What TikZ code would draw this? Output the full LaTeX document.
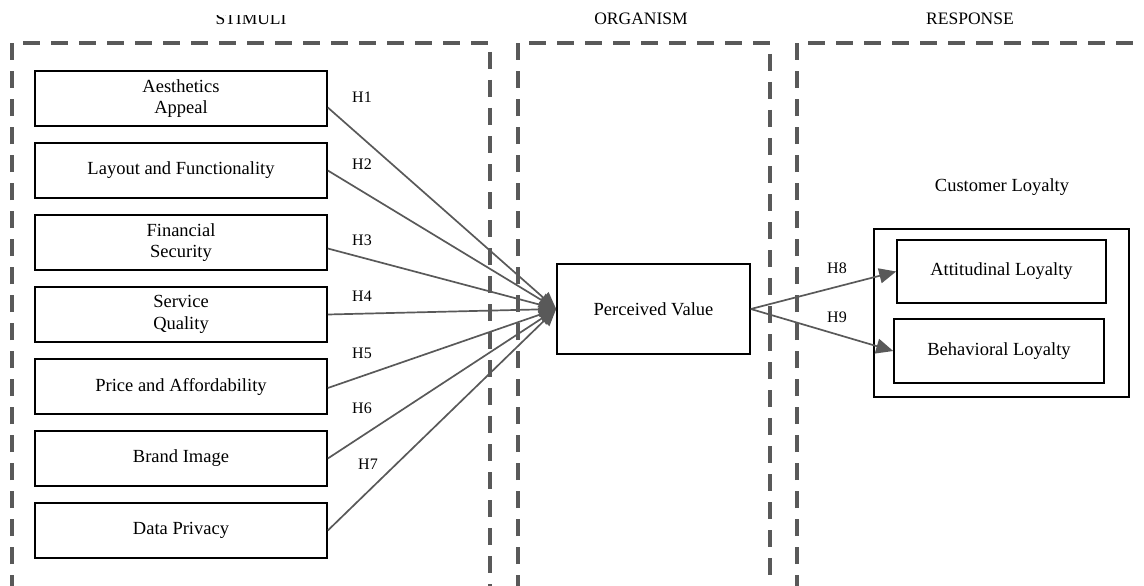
\documentclass[tikz,border=0pt]{standalone}
\usepackage{fontspec}
\setmainfont{Liberation Serif}
\usetikzlibrary{arrows.meta}
\definecolor{linegray}{HTML}{595959}
\tikzset{
  boxtext/.style={font=\fontsize{18.5}{21.5}\selectfont},
  varbox/.style={boxtext, draw=black, line width=1.6pt, inner sep=0pt,
    align=center, minimum width=292pt, minimum height=55pt},
  title/.style={font=\fontsize{17.5}{20}\selectfont, anchor=base, inner sep=0pt},
  hlabel/.style={font=\fontsize{16}{18}\selectfont, inner sep=0pt},
  stage/.style={draw=linegray, line width=4pt, dash pattern=on 17pt off 11pt},
  conn/.style={draw=linegray, line width=1.7pt,
    -{Triangle[length=17pt,width=15pt]}, color=linegray},
}
\begin{document}
\begin{tikzpicture}[x=1pt, y=-1pt]
\useasboundingbox (0,0) rectangle (1144,586);

% stage frames (open at the bottom of the page)
\draw[stage] (12,620) -- (12,43) -- (490,43) -- (490,620);
\draw[stage] (518,620) -- (518,43) -- (770,43) -- (770,620);
\draw[stage] (797,620) -- (797,43) -- (1170,43) -- (1170,620);

% stage titles
\begin{scope}
  \clip (150,16) rectangle (350,40);
  \node[title] (tstim) at (251,25) {STIMULI};
\end{scope}
\node[title] (torg) at (641,25) {ORGANISM};
\node[title] (tres) at (970,25) {RESPONSE};

% stimuli
\node[varbox] (s1) at (181,98.5)  {Aesthetics\\Appeal};
\node[varbox] (s2) at (181,170.5) {Layout and Functionality};
\node[varbox] (s3) at (181,242.5) {Financial\\Security};
\node[varbox] (s4) at (181,314.5) {Service\\Quality};
\node[varbox] (s5) at (181,386.5) {Price and Affordability};
\node[varbox] (s6) at (181,458.5) {Brand Image};
\node[varbox] (s7) at (181,530.5) {Data Privacy};

% organism
\node[varbox, minimum width=193pt, minimum height=90pt] (pv) at (653.5,309) {Perceived Value};

% response
\node[boxtext, anchor=base, inner sep=0pt] (tcl) at (1002,191) {Customer Loyalty};
\node[draw=black, line width=1.4pt, minimum width=255pt, minimum height=168pt, inner sep=0pt] (cl) at (1001.5,313) {};
\node[varbox, minimum width=209pt, minimum height=63pt] (att) at (1001.5,271.5) {Attitudinal Loyalty};
\node[varbox, minimum width=210pt, minimum height=64pt] (beh) at (999,351) {Behavioral Loyalty};

% hypotheses
\draw[conn] ([yshift=-9pt]s1.east) -- (pv.west);
\draw[conn] (s2.east) -- (pv.west);
\draw[conn] ([yshift=-6pt]s3.east) -- (pv.west);
\draw[conn] (s4.east) -- (pv.west);
\draw[conn] ([yshift=-1.5pt]s5.east) -- (pv.west);
\draw[conn] (s6.east) -- (pv.west);
\draw[conn] (s7.east) -- (pv.west);
\draw[conn] (pv.east) -- (att.west);
\draw[conn] (pv.east) -- (beh.west);

\node[hlabel] (h1) at (362,97) {H1};
\node[hlabel] (h2) at (362,164) {H2};
\node[hlabel] (h3) at (362,240) {H3};
\node[hlabel] (h4) at (362,296) {H4};
\node[hlabel] (h5) at (362,353) {H5};
\node[hlabel] (h6) at (362,408) {H6};
\node[hlabel] (h7) at (368,464) {H7};
\node[hlabel] (h8) at (837,268) {H8};
\node[hlabel] (h9) at (837,317) {H9};
\end{tikzpicture}
\end{document}
